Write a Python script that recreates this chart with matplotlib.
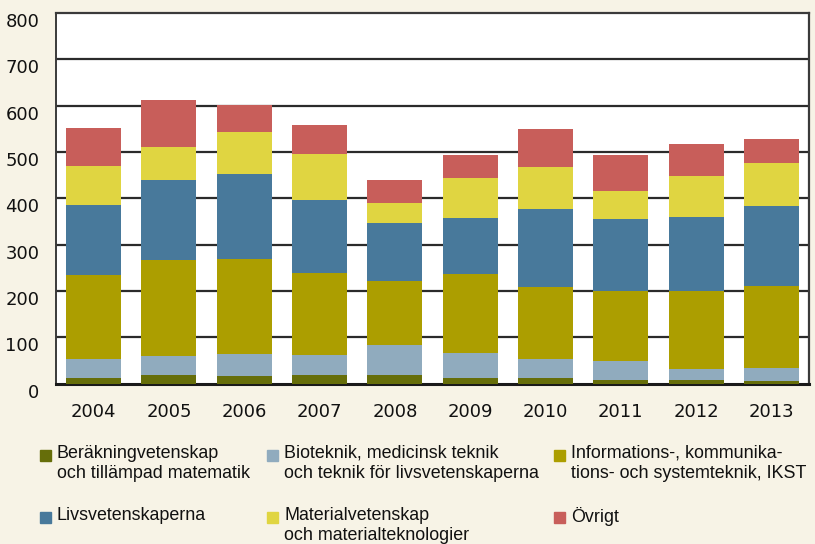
import matplotlib
matplotlib.use("Agg")
import matplotlib.pyplot as plt
import matplotlib.transforms as mtransforms
from matplotlib.patches import Rectangle
import numpy as np

years = ["2004", "2005", "2006", "2007", "2008", "2009", "2010", "2011", "2012", "2013"]
berakning = [12, 18, 16, 18, 18, 12, 12, 8, 8, 5]
bioteknik = [41, 41, 48, 44, 65, 54, 41, 41, 23, 29]
ikst = [181, 208, 205, 177, 138, 171, 155, 151, 169, 177]
livs = [152, 173, 183, 157, 125, 120, 169, 155, 160, 172]
material = [84, 71, 91, 100, 43, 87, 91, 61, 88, 93]
ovrigt = [82, 101, 58, 62, 51, 50, 82, 78, 69, 52]

series = [berakning, bioteknik, ikst, livs, material, ovrigt]
labels = [
    "Beräkningvetenskap\noch tillämpad matematik",
    "Bioteknik, medicinsk teknik\noch teknik för livsvetenskaperna",
    "Informations-, kommunika-\ntions- och systemteknik, IKST",
    "Livsvetenskaperna",
    "Materialvetenskap\noch materialteknologier",
    "Övrigt",
]
colors = ["#666e0a", "#90abbe", "#ac9e00", "#48799b", "#e0d541", "#c85e5a"]
yticks = [0, 100, 200, 300, 400, 500, 600, 700, 800]

bg = "#f7f3e6"
fig = plt.figure(figsize=(8.15, 5.44), dpi=100, facecolor=bg)
W, H = 815, 544
ax = fig.add_axes([56 / W, 1 - 383.5 / H, (809 - 56) / W, (383.5 - 13) / H])
ax.set_facecolor("white")

x = np.arange(len(years))
bottom = np.zeros(len(years))
for vals, c, lab in zip(series, colors, labels):
    ax.bar(x, vals, bottom=bottom, width=0.73, color=c, label=lab, zorder=3)
    bottom += np.array(vals)

ax.set_xlim(-0.5, len(years) - 0.5)
ax.set_ylim(0, 800)
ax.set_yticks(yticks)
ax.set_yticklabels([str(v) for v in yticks])
ax.set_xticks(x)
ax.set_xticklabels(years)
for v in yticks[1:-1]:
    ax.axhline(v, color="#2b2b2b", lw=1.6, zorder=1)

ax.tick_params(axis="both", length=0, labelsize=13, colors="#111111")
ax.tick_params(axis="x", pad=14)
ax.tick_params(axis="y", pad=12)
off = mtransforms.ScaledTranslation(0, -7 / 100, fig.dpi_scale_trans)
for lbl in ax.get_yticklabels():
    lbl.set_transform(lbl.get_transform() + off)

for s in ["top", "right"]:
    ax.spines[s].set_color("#3a3a3a")
    ax.spines[s].set_linewidth(1.6)
ax.spines["left"].set_color("#3a3a3a")
ax.spines["left"].set_linewidth(1.4)
ax.spines["bottom"].set_color("#1a1a1a")
ax.spines["bottom"].set_linewidth(2.2)

# legend (manual layout)
col_x = [40, 267, 554]
row_y = [455, 517]
for i, (lab, c) in enumerate(zip(labels, colors)):
    cx = col_x[i % 3]
    ry = row_y[i // 3]
    fig.patches.append(Rectangle((cx / W, 1 - (ry + 6) / H), 11 / W, 11 / H,
                                 transform=fig.transFigure, color=c))
    fig.text((cx + 17) / W, 1 - (ry - 10) / H, lab, ha="left", va="top",
             fontsize=12.9, family="Liberation Sans", color="#111111",
             linespacing=1.22)

fig.savefig("out.png", dpi=100, facecolor=bg)
